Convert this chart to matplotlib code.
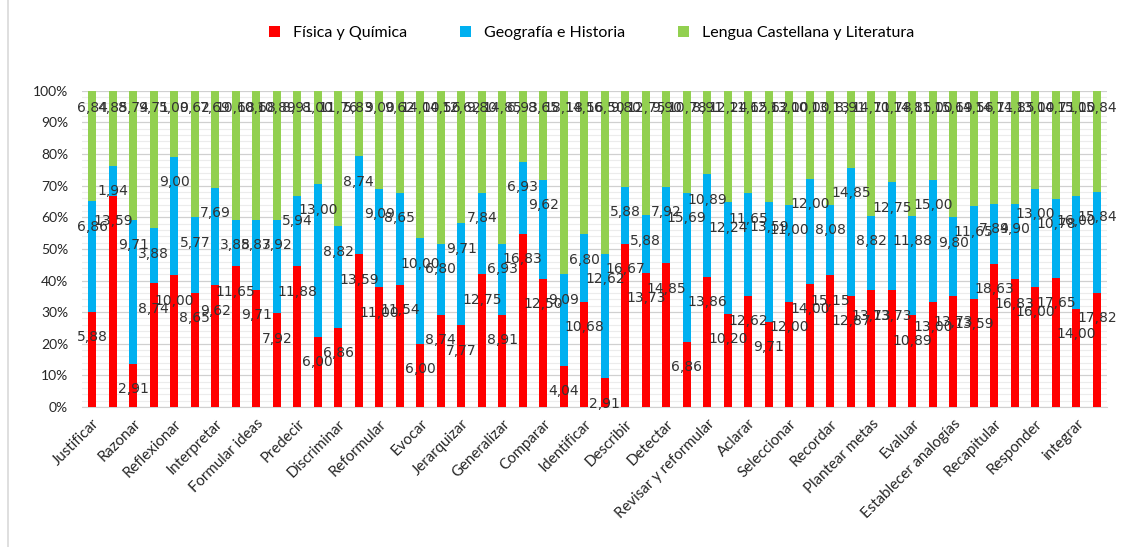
import numpy as np
import matplotlib
matplotlib.use("Agg")
import matplotlib.pyplot as plt
from matplotlib.ticker import MultipleLocator, PercentFormatter

# 50 categories, only every other one is labelled on the x axis
tick_labels = ['Justificar', 'Razonar', 'Reflexionar', 'Interpretar', 'Formular ideas',
               'Predecir', 'Discriminar', 'Reformular', 'Evocar', 'Jerarquizar',
               'Generalizar', 'Comparar', 'Identificar', 'Describir', 'Detectar',
               'Revisar y reformular', 'Aclarar', 'Seleccionar', 'Recordar', 'Plantear metas',
               'Evaluar', 'Establecer analogías', 'Recapitular', 'Responder', 'integrar']

series_names = ['Física y Química', 'Geografía e Historia', 'Lengua Castellana y Literatura']

fisica = [5.88, 13.59, 2.91, 8.74, 10.00, 8.65, 9.62, 11.65, 9.71, 7.92,
          11.88, 6.00, 6.86, 13.59, 11.00, 11.54, 6.00, 8.74, 7.77, 12.75,
          8.91, 16.83, 12.50, 4.04, 10.68, 2.91, 16.67, 13.73, 14.85, 6.86,
          13.86, 10.20, 12.62, 9.71, 12.00, 14.00, 15.15, 12.87, 13.73, 13.73,
          10.89, 13.00, 13.73, 13.59, 18.63, 16.83, 16.00, 17.65, 14.00, 17.82]

geografia = [6.86, 1.94, 9.71, 3.88, 9.00, 5.77, 7.69, 3.88, 5.83, 7.92,
             5.94, 13.00, 8.82, 8.74, 9.09, 8.65, 10.00, 6.80, 9.71, 7.84,
             6.93, 6.93, 9.62, 9.09, 6.80, 12.62, 5.88, 5.88, 7.92, 15.69,
             10.89, 12.24, 11.65, 13.59, 11.00, 12.00, 8.08, 14.85, 8.82, 12.75,
             11.88, 15.00, 9.80, 11.65, 7.84, 9.90, 13.00, 10.78, 16.00, 15.84]

lengua = [6.84, 4.85, 8.74, 9.71, 5.00, 9.62, 7.69, 10.68, 10.68, 10.89,
          8.91, 8.00, 11.76, 5.83, 9.00, 9.62, 14.00, 14.56, 12.62, 9.80,
          14.85, 6.93, 8.65, 18.18, 14.56, 16.50, 9.80, 12.75, 9.90, 10.78,
          8.91, 12.24, 11.65, 12.62, 13.00, 10.00, 13.13, 8.91, 14.71, 10.78,
          14.85, 11.00, 15.69, 14.56, 14.71, 14.85, 13.00, 14.71, 15.00, 15.84]

colors = ['#FF0000', '#00B0F0', '#92D050']


def fmt(v):
    return f"{v:.2f}".replace('.', ',')


values = np.array([fisica, geografia, lengua])
totals = values.sum(axis=0)
shares = values / totals * 100
x = np.arange(values.shape[1])

fig = plt.figure(figsize=(11.27, 5.47), dpi=100)
ax = fig.add_axes([0.0728, 0.256, 0.9095, 0.578])

bottom = np.zeros(len(x))
handles = []
for i in range(3):
    h = ax.bar(x, shares[i], width=0.4, bottom=bottom, color=colors[i],
               label=series_names[i], zorder=3)
    handles.append(h)
    tops = bottom + shares[i]
    for xi, top, v in zip(x, tops, values[i]):
        y = 94.7 if i == 2 else top - 8
        ax.text(xi, y, fmt(v), ha='center', va='center', fontsize=10,
                color='#333333', family='DejaVu Sans', zorder=4)
    bottom = tops

ax.set_xlim(-0.5, len(x) - 0.5)
ax.set_ylim(0, 100)
ax.yaxis.set_major_locator(MultipleLocator(10))
ax.yaxis.set_minor_locator(MultipleLocator(2))
ax.yaxis.set_major_formatter(PercentFormatter(decimals=0))
ax.grid(axis='y', which='major', color='#d0d0d0', linewidth=0.9, zorder=0)
ax.grid(axis='y', which='minor', color='#ececec', linewidth=0.8, zorder=0)

for s in ['top', 'right', 'left']:
    ax.spines[s].set_visible(False)
ax.spines['bottom'].set_color('#d0d0d0')

ax.set_xticks(x[::2])
ax.set_xticklabels(tick_labels, rotation=45, ha='right', rotation_mode='anchor',
                   fontsize=10.8, family='Lato', color='#262626')
ax.tick_params(axis='x', length=0, pad=7)
ax.tick_params(axis='y', which='both', length=0, pad=10, labelsize=10,
               labelcolor='#262626')
for t in ax.get_yticklabels():
    t.set_family('Lato')

fig.legend(handles=handles, loc='center', bbox_to_anchor=(0.525, 0.94), ncol=3,
           frameon=False, handlelength=0.7, handleheight=0.7, columnspacing=3.3,
           prop={'family': 'Lato', 'size': 11.5})

# thin chart frame on the left edge
fig.add_artist(plt.Line2D([0.0075, 0.0075], [0, 1], transform=fig.transFigure,
                          color='#d9d9d9', linewidth=1.2))

fig.savefig('out.png', dpi=100, facecolor='white')
